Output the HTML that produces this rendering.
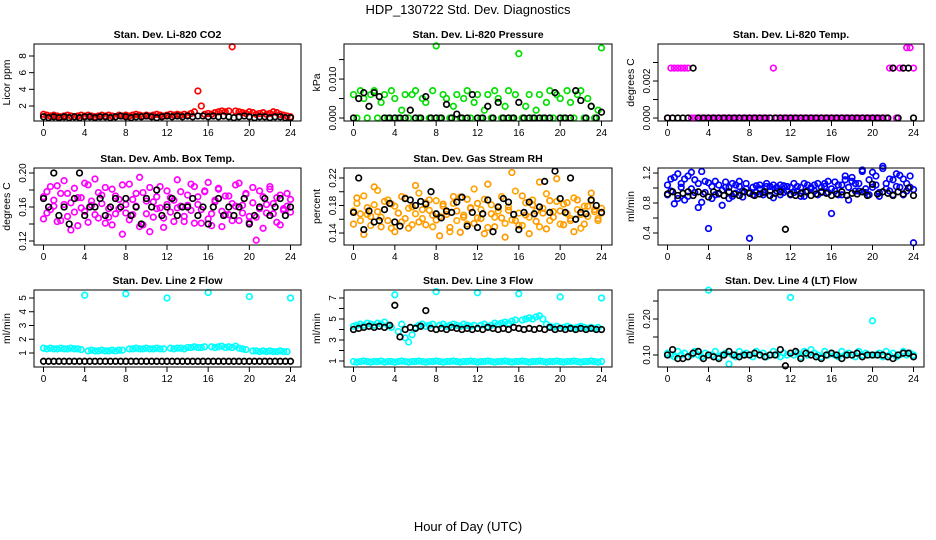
<!DOCTYPE html>
<html><head><meta charset="utf-8"><style>
html,body{margin:0;padding:0;background:#fff;}
svg{display:block;font-family:"Liberation Sans",Arial,sans-serif;}
</style></head><body>
<svg id="chart" width="936" height="540" viewBox="0 0 936 540" xmlns="http://www.w3.org/2000/svg">
<rect width="936" height="540" fill="#fff"/>
<text x="468" y="14" text-anchor="middle" font-size="13">HDP_130722  Std. Dev. Diagnostics</text>
<text x="468" y="531" text-anchor="middle" font-size="13">Hour of Day (UTC)</text>
</svg>
<script>
const xTicks=[0,4,8,12,16,20,24];
const co2Red=[1.0,0.9,0.8,0.9,0.8,0.7,0.8,0.9,0.8,0.7,0.8,0.9,0.8,0.9,0.8,0.7,0.8,0.9,0.8,0.9,0.8,0.7,0.9,0.8,0.9,0.8,0.9,1.0,0.9,0.8,0.9,0.8,0.9,1.0,0.9,0.8,0.9,1.0,0.9,1.0,0.9,1.0,0.9,1.1,1.3,3.8,2.0,1.0,1.1,1.0,1.2,1.3,1.4,1.3,1.4,9.1,1.4,1.3,1.2,1.1,1.3,1.2,1.0,1.1,1.2,1.0,1.1,1.3,1.2,1.0,0.9,0.8,0.7];
const co2Black=[0.7,0.6,0.7,0.6,0.7,0.6,0.7,0.6,0.7,0.7,0.6,0.7,0.7,0.6,0.7,0.8,0.7,0.6,0.7,0.7,0.8,0.7,0.6,0.7,0.8,0.7,0.8,0.7,0.8,0.7,0.8,0.8,0.7,0.8,0.7,0.8,0.7,0.6,0.7,0.8,0.7,0.6,0.7,0.7,0.6,0.7,0.7,0.6,0.6];
const pressGreen=[0.006,0,0.007,0.005,0,0.006,0.007,0,0.004,0.006,0,0.007,0.005,0,0.002,0.006,0,0.006,0.007,0,0.005,0.004,0,0.007,0.0185,0,0.006,0.005,0,0.003,0.006,0,0.005,0.007,0,0.004,0.006,0,0.002,0.006,0,0.007,0.005,0,0.003,0.007,0,0.006,0.0165,0,0.003,0.006,0,0.002,0.006,0,0.004,0.007,0,0.006,0.005,0,0.007,0.004,0,0.006,0.007,0,0.005,0.003,0,0.002,0.018];
const pressBlack=[0,0.005,0.0065,0.003,0.0065,0.0055,0,0,0,0,0,0.002,0,0,0.0055,0,0,0,0.0035,0,0.001,0,0,0.006,0,0,0.003,0,0.004,0,0,0,0.004,0,0,0,0,0,0,0.0065,0,0,0,0.007,0.0045,0,0.003,0,0.0015];
const tempMagenta=[0,0.0027,0.0027,0.0027,0.0027,0.0027,0.0027,0,0,0,0,0,0,0,0,0,0,0,0,0,0,0,0,0,0,0,0,0,0,0,0,0.0027,0,0,0,0,0,0,0,0,0,0,0,0,0,0,0,0,0,0,0,0,0,0,0,0,0,0,0,0,0,0,0,0,0,0.0027,0.0027,0,0.0027,0.0027,0.0038,0.0038,0.0027];
const tempBlack=[0,0,0,0,0,0.0027,0,0,0,0,0,0,0,0,0,0,0,0,0,0,0,0,0,0,0,0,0,0,0,0,0,0,0,0,0,0,0,0,0,0,0,0,0,0,0.0027,0,0.0027,0.0027,0];
const ambMagentaA=[0.172,0.153,0.184,0.161,0.143,0.176,0.191,0.149,0.165,0.182,0.138,0.171,0.155,0.186,0.162,0.193,0.147,0.174,0.141,0.158,0.181,0.152,0.169,0.128,0.163,0.187,0.151,0.176,0.195,0.139,0.167,0.183,0.148,0.172,0.159,0.136,0.179,0.154,0.168,0.192,0.161,0.143,0.174,0.156,0.184,0.163,0.141,0.178,0.189,0.152,0.166,0.181,0.137,0.173,0.151,0.164,0.186,0.144,0.162,0.175,0.149,0.183,0.121,0.158,0.172,0.153,0.181,0.164,0.142,0.174,0.156,0.161,0.169];
const ambMagentaB=[0.146,0.178,0.157,0.168,0.185,0.144,0.163,0.176,0.133,0.154,0.171,0.159,0.188,0.142,0.167,0.151,0.177,0.164,0.183,0.148,0.139,0.173,0.158,0.186,0.153,0.145,0.169,0.161,0.137,0.177,0.152,0.131,0.166,0.158,0.184,0.147,0.163,0.171,0.143,0.159,0.178,0.149,0.162,0.187,0.141,0.172,0.157,0.179,0.146,0.138,0.168,0.182,0.155,0.151,0.173,0.144,0.161,0.188,0.153,0.176,0.142,0.165,0.148,0.179,0.135,0.163,0.184,0.152,0.171,0.139,0.158,0.176,0.154];
const ambBlack=[0.17,0.16,0.20,0.15,0.16,0.14,0.17,0.20,0.15,0.16,0.16,0.17,0.15,0.16,0.17,0.16,0.17,0.15,0.16,0.14,0.17,0.16,0.18,0.15,0.16,0.17,0.15,0.16,0.16,0.17,0.15,0.16,0.14,0.16,0.17,0.15,0.16,0.15,0.16,0.17,0.14,0.15,0.16,0.17,0.15,0.16,0.17,0.15,0.16];
const rhOrangeA=[0.172,0.183,0.158,0.194,0.167,0.151,0.181,0.202,0.163,0.174,0.188,0.147,0.179,0.169,0.156,0.191,0.176,0.152,0.168,0.198,0.161,0.184,0.173,0.149,0.187,0.164,0.179,0.171,0.142,0.183,0.158,0.192,0.166,0.153,0.177,0.204,0.162,0.174,0.189,0.148,0.181,0.163,0.172,0.193,0.154,0.178,0.159,0.201,0.169,0.151,0.184,0.163,0.188,0.172,0.149,0.176,0.197,0.158,0.171,0.186,0.153,0.182,0.168,0.161,0.191,0.174,0.147,0.179,0.164,0.187,0.171,0.158,0.176];
const rhOrangeB=[0.153,0.191,0.168,0.138,0.177,0.164,0.207,0.171,0.149,0.186,0.158,0.182,0.142,0.169,0.193,0.161,0.147,0.178,0.209,0.156,0.174,0.152,0.188,0.166,0.159,0.136,0.182,0.167,0.148,0.193,0.172,0.141,0.163,0.189,0.176,0.154,0.183,0.161,0.139,0.211,0.168,0.149,0.177,0.162,0.134,0.173,0.228,0.158,0.151,0.194,0.166,0.139,0.181,0.157,0.214,0.169,0.146,0.187,0.163,0.219,0.172,0.152,0.184,0.158,0.142,0.188,0.167,0.153,0.179,0.198,0.174,0.161,0.169];
const rhBlack=[0.17,0.22,0.145,0.172,0.156,0.158,0.174,0.183,0.156,0.15,0.19,0.188,0.18,0.186,0.182,0.2,0.168,0.162,0.172,0.17,0.185,0.192,0.15,0.17,0.148,0.168,0.188,0.142,0.178,0.19,0.185,0.167,0.145,0.17,0.185,0.168,0.178,0.215,0.17,0.23,0.19,0.17,0.22,0.16,0.17,0.168,0.188,0.18,0.17];
const flowBlueA=[1.04,0.96,1.14,0.86,1.01,1.12,0.89,1.21,0.94,1.06,0.81,1.09,0.46,1.02,0.91,1.04,0.97,1.01,0.86,1.06,0.93,1.02,0.88,0.99,0.33,1.01,0.94,1.04,0.91,1.02,0.96,0.87,1.01,1.04,0.94,1.02,0.91,1.06,0.96,1.01,0.89,1.04,1.01,0.96,1.06,0.94,1.02,1.09,0.66,0.96,1.04,0.91,1.11,1.01,1.14,0.96,1.06,1.22,0.94,1.11,1.01,1.16,0.89,1.29,1.06,0.96,1.11,1.02,1.17,0.91,1.06,1.01,0.27];
const flowBlueB=[0.91,1.12,0.79,1.19,1.06,0.84,1.16,0.99,1.11,0.74,1.22,0.94,1.07,0.86,1.09,0.92,0.77,1.08,1.01,0.89,1.04,1.09,0.96,1.06,0.94,0.91,1.03,0.99,0.94,1.06,1.02,1.04,0.96,0.91,1.03,0.96,1.01,0.94,1.02,0.89,1.06,0.96,0.99,1.04,0.91,1.01,1.06,0.94,0.99,1.08,0.91,1.04,1.16,0.84,1.09,1.06,0.96,1.24,0.99,0.91,1.21,1.04,0.94,1.26,0.99,1.12,0.91,1.19,1.01,1.12,0.96,1.16,0.98];
const flowBlack=[0.92,0.95,0.9,0.93,0.95,0.9,0.95,0.92,0.88,0.95,0.93,0.9,0.95,0.92,0.9,0.95,0.93,0.9,0.92,0.95,0.9,0.93,0.95,0.45,0.92,0.9,0.93,0.95,0.9,0.92,0.95,0.93,0.9,0.92,0.95,0.9,0.93,0.92,0.95,0.9,1.05,0.92,0.95,0.93,0.9,0.95,0.92,1.0,0.9];
const l2Cyan=[1.35,1.3,1.35,1.3,1.3,1.35,1.3,1.3,1.35,1.3,1.3,1.25,5.2,1.15,1.2,1.15,1.15,1.2,1.15,1.15,1.2,1.15,1.2,1.2,5.3,1.3,1.3,1.35,1.3,1.3,1.35,1.3,1.3,1.35,1.3,1.3,5.0,1.35,1.3,1.35,1.35,1.3,1.4,1.4,1.45,1.4,1.4,1.45,5.4,1.45,1.4,1.45,1.5,1.4,1.45,1.4,1.5,1.35,1.3,1.25,5.1,1.15,1.15,1.1,1.15,1.1,1.15,1.1,1.1,1.15,1.1,1.1,5.0];
const l2Black=[0.4,0.4,0.4,0.4,0.4,0.4,0.4,0.4,0.4,0.4,0.4,0.4,0.4,0.4,0.4,0.4,0.4,0.4,0.4,0.4,0.4,0.4,0.4,0.4,0.4,0.4,0.4,0.4,0.4,0.4,0.4,0.4,0.4,0.4,0.4,0.4,0.4,0.4,0.4,0.4,0.4,0.4,0.4,0.4,0.4,0.4,0.4,0.4,0.4];
const l3CyanUpper=[4.3,4.4,4.5,4.4,4.6,4.5,4.4,4.6,4.5,4.7,4.4,4.2,7.3,3.8,4.5,3.2,2.8,3.5,4.2,4.4,4.5,4.3,4.4,4.5,7.6,4.4,4.5,4.3,4.4,4.5,4.4,4.3,4.5,4.4,4.3,4.4,7.5,4.4,4.5,4.3,4.4,4.6,4.5,4.6,4.7,4.6,4.8,4.9,7.4,4.9,5.0,5.1,5.0,5.2,5.3,5.0,4.5,4.3,4.2,4.3,7.1,4.2,4.3,4.2,4.1,4.2,4.3,4.2,4.1,4.2,4.1,4.2,7.0];
const l3CyanLower=[0.95,0.9,0.95,1.0,0.95,0.9,0.95,0.95,1.0,0.9,0.95,0.95,0.9,0.95,1.0,0.95,0.9,0.95,0.95,1.0,0.95,0.9,0.95,0.95,1.0,0.95,0.9,0.95,0.95,1.0,0.95,0.9,0.95,0.95,1.0,0.95,0.9,0.95,0.95,1.0,0.95,0.9,0.95,0.95,1.0,0.95,0.9,0.95,0.95,1.0,0.95,0.9,0.95,0.95,1.0,0.95,0.9,0.95,0.95,1.0,0.95,0.9,0.95,0.95,1.0,0.95,0.9,0.95,0.95,1.0,0.95,0.9,0.95];
const l3Black=[4.0,4.1,4.2,4.3,4.2,4.3,4.2,4.4,6.3,3.3,4.0,4.2,4.1,4.3,5.8,4.1,4.0,4.1,4.0,4.2,4.1,4.0,4.1,4.0,4.1,4.0,4.2,4.1,4.0,4.1,4.0,4.2,4.1,4.0,4.1,4.0,4.1,4.0,4.2,4.0,4.1,4.0,4.1,4.0,4.1,4.0,4.1,4.0,4.0];
const l4Cyan=[0.105,0.1,0.095,0.11,0.1,0.105,0.095,0.1,0.11,0.1,0.095,0.105,0.28,0.1,0.11,0.095,0.1,0.105,0.075,0.1,0.095,0.11,0.1,0.105,0.1,0.095,0.11,0.1,0.105,0.095,0.1,0.11,0.1,0.095,0.105,0.1,0.26,0.1,0.105,0.095,0.11,0.1,0.115,0.105,0.1,0.095,0.11,0.1,0.105,0.1,0.095,0.11,0.1,0.105,0.1,0.095,0.11,0.1,0.105,0.1,0.195,0.1,0.105,0.095,0.11,0.1,0.105,0.095,0.1,0.11,0.1,0.105,0.1];
const l4Black=[0.1,0.115,0.09,0.09,0.095,0.105,0.11,0.09,0.1,0.095,0.09,0.1,0.11,0.1,0.095,0.1,0.1,0.105,0.1,0.095,0.1,0.1,0.115,0.07,0.105,0.11,0.09,0.105,0.1,0.095,0.09,0.1,0.105,0.1,0.09,0.1,0.1,0.105,0.095,0.1,0.1,0.1,0.1,0.095,0.09,0.1,0.105,0.105,0.095];
const co2YTicks=[2,4,6,8];
const co2YLabels=["2","4","6","8"];
const pressYTicks=[0,0.005,0.010,0.015];
const pressYLabels=["0.000","","0.010",""];
const tempYTicks=[0,0.001,0.002,0.003];
const tempYLabels=["0.000","","0.002",""];
const ambYTicks=[0.12,0.14,0.16,0.18,0.20];
const ambYLabels=["0.12","","0.16","","0.20"];
const rhYTicks=[0.14,0.16,0.18,0.20,0.22];
const rhYLabels=["0.14","","0.18","","0.22"];
const flowYTicks=[0.4,0.6,0.8,1.0,1.2];
const flowYLabels=["0.4","","0.8","","1.2"];
const l2YTicks=[1,2,3,4,5];
const l2YLabels=["1","2","3","4","5"];
const l3YTicks=[1,2,3,4,5,6,7];
const l3YLabels=["1","","3","","5","","7"];
const l4YTicks=[0.10,0.15,0.20,0.25];
const l4YLabels=["0.10","","0.20",""];

const svg=document.getElementById('chart');
const NS='http://www.w3.org/2000/svg';
function mk(tag,attrs,parent){const e=document.createElementNS(NS,tag);for(const k in attrs)e.setAttribute(k,attrs[k]);(parent||svg).appendChild(e);return e;}
const cols=[[34,301],[344,612],[658,924]];
const rows=[[44,121],[168,245],[290,367]];
const panels=[
 {key:'co2',title:'Stan. Dev. Li-820 CO2',ylab:'Licor ppm',c:0,r:0,dom:[0.2,9.44],yt:co2YTicks,yl:co2YLabels,series:[[co2Red,'#ff0000'],[co2Black,'#000']]},
 {key:'pressure',title:'Stan. Dev. Li-820 Pressure',ylab:'kPa',c:1,r:0,dom:[-0.00077,0.019],yt:pressYTicks,yl:pressYLabels,series:[[pressGreen,'#00e000'],[pressBlack,'#000']]},
 {key:'temp',title:'Stan. Dev. Li-820 Temp.',ylab:'degrees C',c:2,r:0,dom:[-0.00016,0.0040],yt:tempYTicks,yl:tempYLabels,series:[[tempMagenta,'#ff00ff'],[tempBlack,'#000']]},
 {key:'amb-temp',title:'Stan. Dev. Amb. Box Temp.',ylab:'degrees C',c:0,r:1,dom:[0.1153,0.2059],yt:ambYTicks,yl:ambYLabels,series:[[ambMagentaA,'#ff00ff'],[ambMagentaB,'#ff00ff'],[ambBlack,'#000']]},
 {key:'rh',title:'Stan. Dev. Gas Stream RH',ylab:'percent',c:1,r:1,dom:[0.1226,0.2345],yt:rhYTicks,yl:rhYLabels,series:[[rhOrangeA,'#ffa500'],[rhOrangeB,'#ff9900'],[rhBlack,'#000']]},
 {key:'sample-flow',title:'Stan. Dev. Sample Flow',ylab:'ml/min',c:2,r:1,dom:[0.24,1.267],yt:flowYTicks,yl:flowYLabels,series:[[flowBlueA,'#0000ff'],[flowBlueB,'#0000ff'],[flowBlack,'#000']]},
 {key:'line2',title:'Stan. Dev. Line 2 Flow',ylab:'ml/min',c:0,r:2,dom:[-0.018,5.58],yt:l2YTicks,yl:l2YLabels,series:[[l2Cyan,'#00ffff'],[l2Black,'#000']]},
 {key:'line3',title:'Stan. Dev. Line 3 Flow',ylab:'ml/min',c:1,r:2,dom:[0.43,7.76],yt:l3YTicks,yl:l3YLabels,series:[[l3CyanUpper,'#00ffff'],[l3CyanLower,'#00ffff'],[l3Black,'#000']]},
 {key:'line4',title:'Stan. Dev. Line 4 (LT) Flow',ylab:'ml/min',c:2,r:2,dom:[0.0667,0.2806],yt:l4YTicks,yl:l4YLabels,series:[[l4Cyan,'#00ffff'],[l4Black,'#000']]}
];
panels.forEach(p=>{
 const [x0,x1]=cols[p.c],[y0,y1]=rows[p.r];
 const hx0=x0+9.5,hx1=x1-10.5;
 const xs=h=>hx0+(hx1-hx0)*h/24;
 const ys=v=>y1-(v-p.dom[0])/(p.dom[1]-p.dom[0])*(y1-y0);
 const g=mk('g',{});
 
 
 const t=mk('text',{x:(x0+x1)/2,y:y0-6,'text-anchor':'middle','font-size':'10.5','font-weight':'bold'},g);
 
 
 t.textContent=p.title;
 const yl=mk('text',{x:0,y:0,'text-anchor':'middle','font-size':'10.5',transform:`translate(${x0-24},${(y0+y1)/2}) rotate(-90)`},g);
 
 
 yl.textContent=p.ylab;
 p.series.forEach((s,si)=>{
  const arr=s[0],col=s[1];
  const sg=mk('g',{fill:'none',stroke:col,'stroke-width':'1.7'},g);
  
  
  arr.forEach((v,i)=>{
   const h=i*24/(arr.length-1);
   const c=mk('circle',{cx:xs(h).toFixed(1),cy:ys(v).toFixed(1),r:'2.8'},sg);
   
   
  });
 });
 const b=mk('rect',{x:x0,y:y0,width:x1-x0,height:y1-y0,fill:'none',stroke:'#000','stroke-width':'1'},g);
 
 
 const xa=mk('g',{},g);
 
 
 mk('line',{x1:xs(0),x2:xs(24),y1:y1,y2:y1,stroke:'#000'},xa);
 xTicks.forEach(v=>{
  mk('line',{x1:xs(v),x2:xs(v),y1:y1,y2:y1+5,stroke:'#000'},xa);
  const tl=mk('text',{x:xs(v),y:y1+15,'text-anchor':'middle','font-size':'10'},xa);
  
  
  tl.textContent=v;
 });
 const ya=mk('g',{},g);
 
 
 mk('line',{x1:x0,x2:x0,y1:ys(p.yt[0]),y2:ys(p.yt[p.yt.length-1]),stroke:'#000'},ya);
 p.yt.forEach((v,i)=>{
  const yy=ys(v);
  mk('line',{x1:x0-5,x2:x0,y1:yy,y2:yy,stroke:'#000'},ya);
  if(p.yl[i]){
   const tl=mk('text',{x:0,y:0,'text-anchor':'middle','font-size':'10',transform:`translate(${x0-8},${yy}) rotate(-90)`},ya);
   
   
   tl.textContent=p.yl[i];
  }
 });
});
</script>
</body></html>
